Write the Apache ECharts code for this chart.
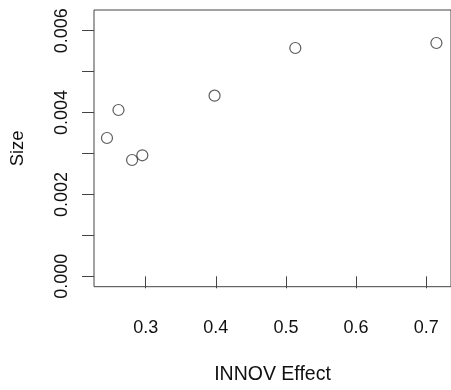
<!DOCTYPE html>
<html><head><meta charset="utf-8">
<script src="https://cdn.jsdelivr.net/npm/echarts@6/dist/echarts.min.js"></script>
<style>html,body{margin:0;padding:0;background:#fff}#c{width:451px;height:390px}</style>
</head><body><div id="c"></div>
<script>
const innovEffect = [0.2448, 0.2612, 0.2806, 0.2952, 0.3982, 0.5133, 0.7145];
const sizeValues = [0.003379, 0.004063, 0.002841, 0.002956, 0.004413, 0.005578, 0.0057];
const xTicks = [0.3, 0.4, 0.5, 0.6, 0.7];
const yTicks = [0, 0.001, 0.002, 0.003, 0.004, 0.005, 0.006];
const yLabels = [0, 0.002, 0.004, 0.006];
const xTitle = 'INNOV Effect';
const yTitle = 'Size';

const font = 'Liberation Sans, Arial, sans-serif';
const chart = echarts.init(document.getElementById('c'));
chart.setOption({
  animation: false,
  grid: {left: 93.7, top: 10, width: 359.3, bottom: 103.3, show: true, borderColor: '#444', borderWidth: 1, backgroundColor: 'transparent'},
  xAxis: {
    type: 'value', min: 0.2263, max: 0.7353,
    name: xTitle, nameLocation: 'middle', nameGap: 78,
    nameTextStyle: {fontFamily: font, fontSize: 19.5, color: '#111'},
    axisLine: {show: false},
    splitLine: {show: false},
    axisTick: {show: true, inside: false, length: 12, customValues: xTicks, lineStyle: {color: '#444', width: 1}},
    axisLabel: {customValues: xTicks, margin: 32, fontFamily: font, fontSize: 18, color: '#111',
      formatter: v => v.toFixed(1)}
  },
  yAxis: {
    type: 'value', min: -0.000254, max: 0.006506,
    name: yTitle, nameLocation: 'middle', nameGap: 67, nameRotate: 90,
    nameTextStyle: {fontFamily: font, fontSize: 18.5, color: '#111'},
    axisLine: {show: false},
    splitLine: {show: false},
    axisTick: {show: true, inside: false, length: 12, customValues: yTicks, lineStyle: {color: '#444', width: 1}},
    axisLabel: {customValues: yLabels, rotate: 90, margin: 23, fontFamily: font, fontSize: 18, color: '#111',
      formatter: v => v.toFixed(3)}
  },
  series: [{
    type: 'scatter',
    data: innovEffect.map((x, i) => [x, sizeValues[i]]),
    symbol: 'circle', symbolSize: 11,
    itemStyle: {color: 'rgba(255,255,255,0)', borderColor: '#333', borderWidth: 1.2}
  }]
});
</script></body></html>
